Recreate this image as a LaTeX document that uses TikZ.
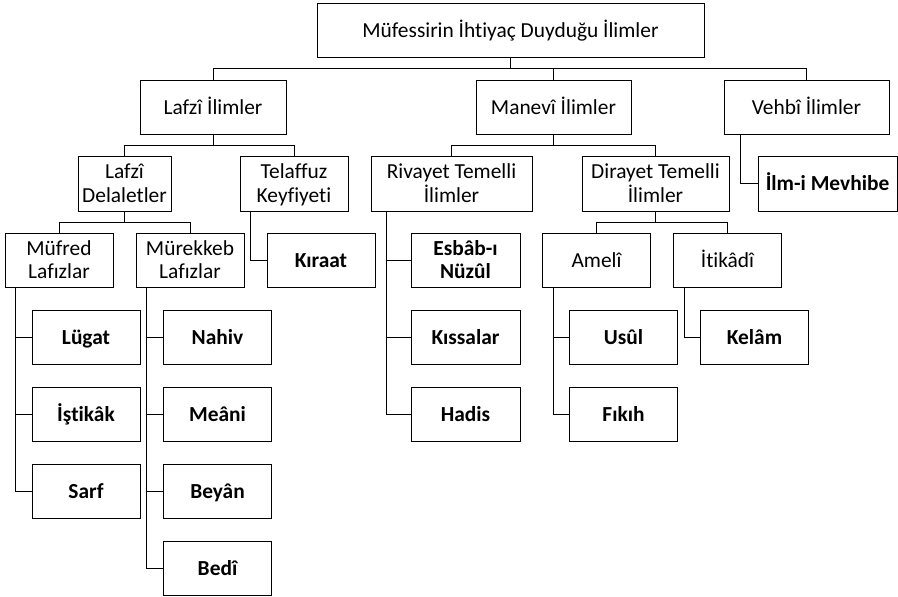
\documentclass[tikz,border=0pt]{standalone}
\usepackage{fontspec}
\setmainfont{Carlito}[RawFeature={-liga;-clig;-calt;-dlig}]
\newcommand{\topstr}{\rule{0pt}{16pt}}
\newcommand{\lastln}[1]{\raisebox{0pt}[\height][0pt]{#1}\rule[-2pt]{0pt}{2pt}}
\begin{document}
\begin{tikzpicture}[x=1pt,y=-1pt,
  box/.style={draw=black, line width=1pt, inner sep=0pt, minimum height=54pt, minimum width=108pt, align=center, font=\fontsize{21.4}{23.4}\selectfont},
  one/.style={text height=16pt, text depth=2pt},
  leaf/.style={box, font=\fontsize{21.4}{23.4}\selectfont\bfseries},
  conn/.style={draw=black, line width=1pt}]
\useasboundingbox (0,0) rectangle (898,597);
% level 0
\node[box, one, minimum width=387pt] (root) at (510.5,30) {Müfessirin İhtiyaç Duyduğu İlimler};
% level 1
\node[box, one, minimum width=146pt] (lafzi) at (213,107) {Lafzî İlimler};
\node[box, one, minimum width=155pt] (manevi) at (553.5,107) {Manevî İlimler};
\node[box, one, minimum width=165pt] (vehbi) at (806.5,107) {Vehbî İlimler};
% level 2
\node[box, minimum width=93pt, minimum height=55pt] (ldel) at (124.5,183.5) {\topstr Lafzî\\\lastln{Delaletler}};
\node[box, minimum width=108pt, minimum height=55pt] (tel) at (294,183.5) {\topstr Telaffuz\\\lastln{Keyfiyeti}};
\node[box, minimum width=161pt, minimum height=55pt] (riv) at (451.5,183.5) {\topstr Rivayet Temelli\\\lastln{İlimler}};
\node[box, minimum width=147pt, minimum height=55pt] (dir) at (655.5,183.5) {\topstr Dirayet Temelli\\\lastln{İlimler}};
\node[leaf, one, minimum width=139pt, minimum height=55pt] (mevhibe) at (827.5,183.5) {İlm-i Mevhibe};
% level 3
\node[box] (mufred) at (59,260) {\topstr Müfred\\\lastln{Lafızlar}};
\node[box] (murekkeb) at (190,260) {\topstr Mürekkeb\\\lastln{Lafızlar}};
\node[leaf, one] (kiraat) at (321,260) {Kıraat};
\node[leaf, minimum width=109pt] (esbab) at (465.5,260) {\topstr Esbâb-ı\\\lastln{Nüzûl}};
\node[box, one] (ameli) at (596.5,260) {Amelî};
\node[box, one] (itikadi) at (727.5,260) {İtikâdî};
% leaves
\node[leaf, one] (lugat) at (86,337) {Lügat};
\node[leaf, one] (istikak) at (86,414) {İştikâk};
\node[leaf, one] (sarf) at (86,491) {Sarf};
\node[leaf, one] (nahiv) at (217.5,337) {Nahiv};
\node[leaf, one] (meani) at (217.5,414) {Meâni};
\node[leaf, one] (beyan) at (217.5,491) {Beyân};
\node[leaf, one] (bedi) at (217.5,568) {Bedî};
\node[leaf, one, minimum width=109pt] (kissalar) at (465.5,337) {Kıssalar};
\node[leaf, one, minimum width=109pt] (hadis) at (465.5,414) {Hadis};
\node[leaf, one] (usul) at (623.5,337) {Usûl};
\node[leaf, one] (fikih) at (623.5,414) {Fıkıh};
\node[leaf, one] (kelam) at (754.5,337) {Kelâm};
% connectors: buses
\draw[conn] (lafzi.north) |- ([yshift=-11pt]root.south) -| (vehbi.north);
\draw[conn] (root.south) -- ++(0,11) -| (manevi.north);
\draw[conn] (ldel.north) |- ([yshift=-11pt]lafzi.south) -| (tel.north);
\draw[conn] (lafzi.south) -- ++(0,11);
\draw[conn] (riv.north) |- ([yshift=-11pt]manevi.south) -| (dir.north);
\draw[conn] (manevi.south) -- ++(0,11);
\draw[conn] (mufred.north) |- ([yshift=-11pt]ldel.south) -| (murekkeb.north);
\draw[conn] (ldel.south) -- ++(0,11);
\draw[conn] (ameli.north) |- ([yshift=-11pt]dir.south) -| (itikadi.north);
\draw[conn] (dir.south) -- ++(0,11);
% side connectors
\draw[conn] ([xshift=17pt]vehbi.south west) |- (mevhibe.west);
\draw[conn] ([xshift=11pt]tel.south west) |- (kiraat.west);
\draw[conn] ([xshift=16pt]riv.south west) |- (esbab.west);
\draw[conn] ([xshift=16pt]riv.south west) |- (kissalar.west);
\draw[conn] ([xshift=16pt]riv.south west) |- (hadis.west);
\draw[conn] ([xshift=11pt]mufred.south west) |- (lugat.west);
\draw[conn] ([xshift=11pt]mufred.south west) |- (istikak.west);
\draw[conn] ([xshift=11pt]mufred.south west) |- (sarf.west);
\draw[conn] ([xshift=11pt]murekkeb.south west) |- (nahiv.west);
\draw[conn] ([xshift=11pt]murekkeb.south west) |- (meani.west);
\draw[conn] ([xshift=11pt]murekkeb.south west) |- (beyan.west);
\draw[conn] ([xshift=11pt]murekkeb.south west) |- (bedi.west);
\draw[conn] ([xshift=11pt]ameli.south west) |- (usul.west);
\draw[conn] ([xshift=11pt]ameli.south west) |- (fikih.west);
\draw[conn] ([xshift=11pt]itikadi.south west) |- (kelam.west);
\end{tikzpicture}
\end{document}
